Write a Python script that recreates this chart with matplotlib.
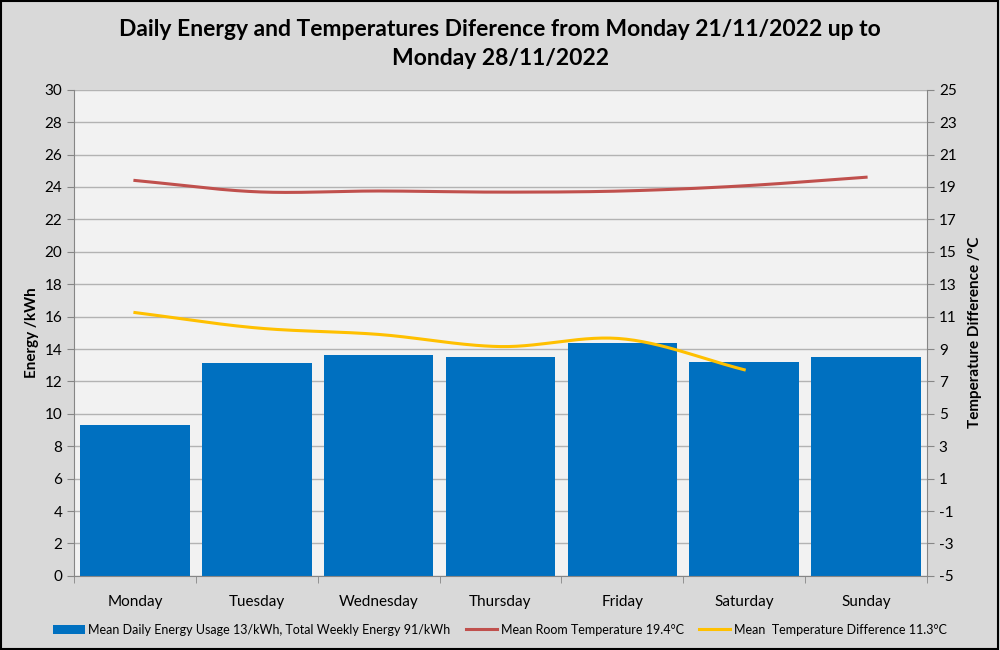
import matplotlib.pyplot as plt
import numpy as np

days = ["Monday", "Tuesday", "Wednesday", "Thursday", "Friday", "Saturday", "Sunday"]
energy = [9.32, 13.15, 13.64, 13.52, 14.38, 13.21, 13.52]
room_temp = [19.4, 18.7, 18.75, 18.68, 18.75, 19.07, 19.6]
temp_diff = [11.25, 10.3, 9.9, 9.15, 9.63, 7.72]


def smooth(y, n=30):
    # Catmull-Rom style smoothing, like the spreadsheet "smoothed line"
    y = np.asarray(y, dtype=float)
    x = np.arange(len(y), dtype=float)
    p = np.concatenate([[2 * y[0] - y[1]], y, [2 * y[-1] - y[-2]]])
    xs, ys = [], []
    for i in range(len(y) - 1):
        p0, p1, p2, p3 = p[i], p[i + 1], p[i + 2], p[i + 3]
        t = np.linspace(0, 1, n, endpoint=False)
        ys.append(0.5 * (2 * p1 + (-p0 + p2) * t
                         + (2 * p0 - 5 * p1 + 4 * p2 - p3) * t ** 2
                         + (-p0 + 3 * p1 - 3 * p2 + p3) * t ** 3))
        xs.append(x[i] + t)
    xs.append([x[-1]])
    ys.append([y[-1]])
    return np.concatenate(xs), np.concatenate(ys)


plt.rcParams['font.family'] = ['Lato', 'DejaVu Sans']
plt.rcParams['axes.unicode_minus'] = False

fig = plt.figure(figsize=(10, 6.5), dpi=100, facecolor='#d9d9d9')
ax = fig.add_axes([0.074, 0.114, 0.853, 0.748])
ax.set_facecolor('#f2f2f2')

x = np.arange(len(days))
bars = ax.bar(x, energy, width=0.9, color='#0070c0', zorder=2,
              label='Mean Daily Energy Usage 13/kWh, Total Weekly Energy 91/kWh')
ax.set_xlim(-0.5, len(days) - 0.5)
ax.set_ylim(0, 30)
ax.set_yticks(np.arange(0, 31, 2))
ax.set_xticks(x)
ax.set_xticklabels(days, fontsize=11)
ax.set_xticks(np.arange(-0.5, len(days), 1), minor=True)
ax.tick_params(axis='x', which='major', length=0, pad=14)
ax.tick_params(axis='x', which='minor', length=5, color='#868686')
ax.tick_params(axis='y', length=5, color='#868686', labelsize=11)
ax.grid(axis='y', color='#b3b3b3', linewidth=1, zorder=0)
ax.set_ylabel('Energy /kWh', fontsize=11, fontweight='bold')
for s in ['top', 'right']:
    ax.spines[s].set_visible(False)
for s in ['left', 'bottom']:
    ax.spines[s].set_color('#868686')

ax2 = ax.twinx()
ax2.set_ylim(-5, 25)
ax2.set_yticks(np.arange(-5, 26, 2))
ax2.tick_params(axis='y', length=5, color='#868686', labelsize=11)
ax2.set_ylabel('Temperature Difference /°C', fontsize=11, fontweight='bold', labelpad=8)
for s in ['top', 'left', 'bottom']:
    ax2.spines[s].set_visible(False)
ax2.spines['right'].set_color('#868686')

rx, ry = smooth(room_temp)
l1, = ax2.plot(rx, ry, color='#c0504d', linewidth=2.2,
               label='Mean Room Temperature 19.4°C')
dx, dy = smooth(temp_diff)
l2, = ax2.plot(dx, dy, color='#ffc000', linewidth=2.2,
               label='Mean  Temperature Difference 11.3°C')

fig.suptitle('Daily Energy and Temperatures Diference from Monday 21/11/2022 up to\nMonday 28/11/2022',
             fontsize=16.5, fontweight='bold', y=0.97, linespacing=1.45)

fig.legend([bars, l1, l2], [bars.get_label(), l1.get_label(), l2.get_label()],
           loc='lower center', bbox_to_anchor=(0.5, 0.005), ncol=3, frameon=False,
           fontsize=9, handlelength=2.5, columnspacing=1.2, handletextpad=0.3)

fig.patches.append(plt.Rectangle((0.001, 0.001), 0.997, 0.997, transform=fig.transFigure,
                                 fill=False, edgecolor='black', linewidth=1.5))

plt.savefig('out.png', facecolor=fig.get_facecolor())
